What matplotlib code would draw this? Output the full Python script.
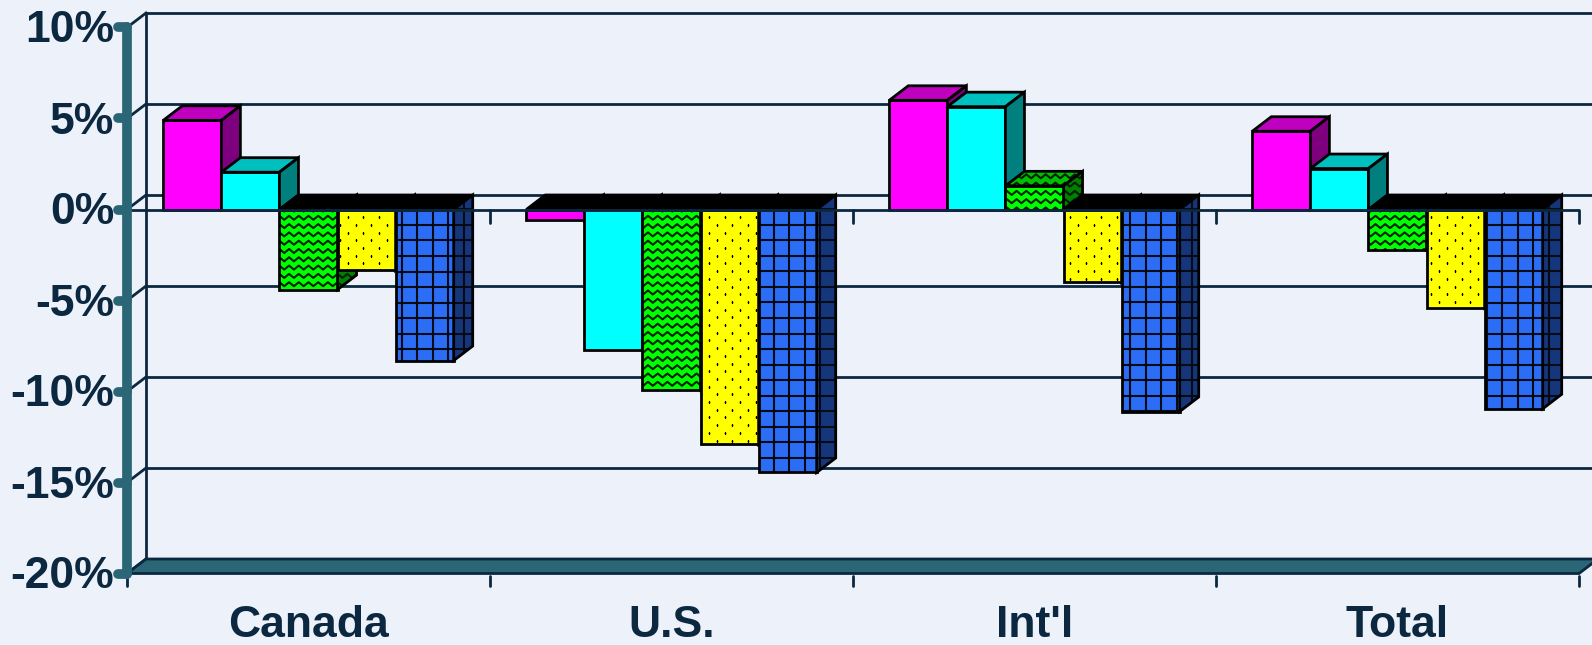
import numpy as np
import matplotlib.pyplot as plt
from matplotlib.patches import Polygon
from matplotlib.collections import LineCollection

# Growth by region, in percent
categories = ["Canada", "U.S.", "Int'l", "Total"]
pink = [4.9, -0.6, 6.0, 4.3]
aqua = [2.05, -7.7, 5.65, 2.25]
green = [-4.4, -9.9, 1.3, -2.2]
yellow = [-3.35, -12.9, -4.0, -5.4]
blue = [-8.3, -14.45, -11.1, -10.95]
y_ticks = [10, 5, 0, -5, -10, -15, -20]
y_labels = ['10%', '5%', '0%', '-5%', '-10%', '-15%', '-20%']

BG = '#EDF2FA'
NAVY = '#0B2840'
TEAL = '#2B6676'

# canvas scale: one category = 363 px, one percent = 18.2 px
PX, PY = 363.0, 18.2
W, H = 1592, 645
x_lo = -0.5 - 127 / PX
y_hi = 209.5 / PY
DX, DY = 19 / PX, 14.5 / PY      # depth offset of the 3-D box
Y_MIN, Y_MAX = -20, 10
BAR_W = 0.16

fig = plt.figure(figsize=(W / 100, H / 100), dpi=100, facecolor=BG)
ax = fig.add_axes([0, 0, 1, 1])
ax.set_facecolor(BG)
ax.set_xlim(x_lo, x_lo + W / PX)
ax.set_ylim(y_hi - H / PY, y_hi)
ax.axis('off')

n_cat = len(categories)
x_left, x_right = -0.5, n_cat - 0.5


def shade(c, f):
    r, g, b = [int(c[i:i + 2], 16) for i in (1, 3, 5)]
    return '#%02x%02x%02x' % (int(r * f), int(g * f), int(b * f))


def bbox_of(verts):
    a = np.array(verts)
    return a[:, 0].min(), a[:, 0].max(), a[:, 1].min(), a[:, 1].max()


def grid_fill(poly, verts):
    x0, x1, y0, y1 = bbox_of(verts)
    sx, sy = 15.5 / PX, 15.5 / PY
    segs = [[(x, y0), (x, y1)] for x in np.arange(np.floor(x0 / sx) * sx, x1 + sx, sx)]
    segs += [[(x0, y), (x1, y)] for y in np.arange(np.floor(y0 / sy) * sy, y1 + sy, sy)]
    lc = LineCollection(segs, colors='#050a14', linewidths=1.5, zorder=3)
    ax.add_collection(lc, autolim=False)
    lc.set_clip_path(poly)


def wave_fill(poly, verts):
    x0, x1, y0, y1 = bbox_of(verts)
    half, row, amp = 4.85 / PX, 8.3 / PY, 2.0 / PY
    k = np.arange(np.floor(x0 / half) - 1, np.ceil(x1 / half) + 2)
    xs = k * half
    zig = np.where(k % 2 == 0, amp, -amp)
    segs = [np.column_stack([xs, y + zig])
            for y in np.arange(np.floor(y0 / row) * row, y1 + row, row)]
    lc = LineCollection(segs, colors='#002000', linewidths=1.5, zorder=3)
    ax.add_collection(lc, autolim=False)
    lc.set_clip_path(poly)


def dot_fill(poly, verts):
    x0, x1, y0, y1 = bbox_of(verts)
    sx, sy = 15.7 / PX, 7.7 / PY
    px, py = [], []
    for r in range(int(np.floor(y0 / sy)), int(np.ceil(y1 / sy)) + 1):
        off = (r % 2) * sx / 2
        xs = np.arange(np.floor(x0 / sx) * sx - sx, x1 + sx, sx) + off
        px += list(xs)
        py += [r * sy] * len(xs)
    dots, = ax.plot(px, py, ls='none', marker='s', ms=1.2, mew=0,
                    color='black', zorder=3)
    dots.set_clip_path(poly)


def face(verts, fc, fill=None):
    poly = Polygon(verts, closed=True, facecolor=fc, edgecolor='none', zorder=3)
    ax.add_patch(poly)
    if fill is not None:
        fill(poly, verts)
    ax.add_patch(Polygon(verts, closed=True, fill=False, edgecolor='black',
                         lw=2.0, joinstyle='miter', zorder=3))


def bar3d(x0, v, fc, fill):
    x1 = x0 + BAR_W
    face([(x0, 0), (x1, 0), (x1, v), (x0, v)], fc, fill)
    if v >= 0:
        face([(x0, v), (x1, v), (x1 + DX, v + DY), (x0 + DX, v + DY)], shade(fc, 0.75), fill)
    else:
        face([(x0, 0), (x1, 0), (x1 + DX, DY), (x0 + DX, DY)], 'black')
    face([(x1, 0), (x1 + DX, DY), (x1 + DX, v + DY), (x1, v)], shade(fc, 0.5), fill)


# back wall and left side wall
ax.plot([x_left + DX, x_left + DX], [Y_MAX + DY, Y_MIN + DY], color=NAVY, lw=2, zorder=1)
for t in y_ticks[:-1]:
    ax.plot([x_left + DX, x_lo + W / PX + 1], [t + DY, t + DY], color=NAVY, lw=2, zorder=1)
for t in y_ticks:
    ax.plot([x_left, x_left + DX], [t, t + DY], color=NAVY, lw=2, zorder=1)

# floor
ax.add_patch(Polygon([(x_left, Y_MIN), (x_right, Y_MIN), (x_right + DX, Y_MIN + DY),
                      (x_left + DX, Y_MIN + DY)], closed=True, facecolor=TEAL,
                     edgecolor=NAVY, lw=2, zorder=2))

# bars
series = [(pink, '#FF00FF', None), (aqua, '#00FFFF', None), (green, '#00FF00', wave_fill),
          (yellow, '#FFFF00', dot_fill), (blue, '#2C6DF6', grid_fill)]
n_ser = len(series)
for i in range(n_cat):
    start = i - n_ser * BAR_W / 2
    for j, (vals, col, fill) in enumerate(series):
        bar3d(start + j * BAR_W, vals[i], col, fill)

# category axis at zero, drawn over the bars
ax.plot([x_left, x_right], [0, 0], color=NAVY, lw=2, zorder=4, solid_capstyle='butt')
for b in np.arange(x_left, x_right + 0.01, 1.0):
    ax.plot([b, b], [0, -13 / PY], color=NAVY, lw=2, zorder=4, solid_capstyle='round')
    ax.plot([b, b], [Y_MIN - 2 / PY, Y_MIN - 12 / PY], color=NAVY, lw=2, zorder=4,
            solid_capstyle='round')

# value axis
ax.plot([x_left, x_left], [Y_MAX, Y_MIN], color=TEAL, lw=7, zorder=5, solid_capstyle='round')
for t, lab in zip(y_ticks, y_labels):
    ax.plot([x_left - 9 / PX, x_left], [t, t], color=TEAL, lw=7, zorder=5,
            solid_capstyle='round')
    ax.text(x_left - 13 / PX, t - 15 / PY, lab, ha='right', va='baseline',
            fontsize=32, fontweight='bold', family='Liberation Sans', color=NAVY)

for i, cat in enumerate(categories):
    ax.text(i, -(637 - 209.5) / PY, cat, ha='center', va='baseline',
            fontsize=32, fontweight='bold', family='Liberation Sans', color=NAVY)

fig.savefig('out.png', dpi=100, facecolor=BG)
